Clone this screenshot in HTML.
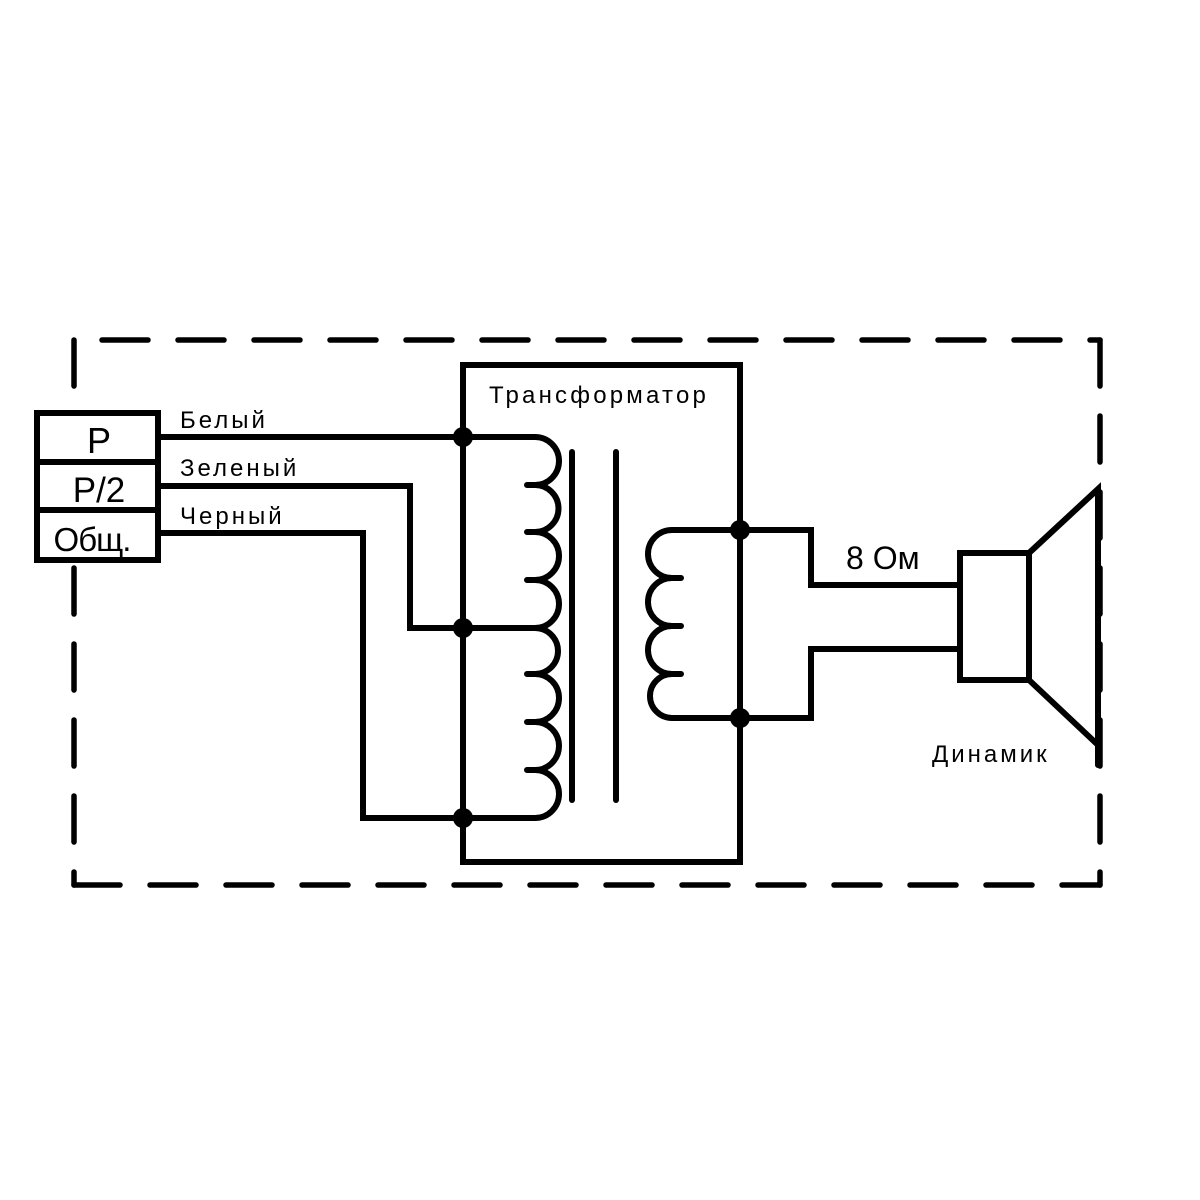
<!DOCTYPE html>
<html><head><meta charset="utf-8"><style>html,body{margin:0;padding:0;background:#fff}svg{display:block}</style></head>
<body>
<svg width="1200" height="1200" viewBox="0 0 1200 1200" xmlns="http://www.w3.org/2000/svg">
<rect width="1200" height="1200" fill="#fff"/>
<g stroke="#000" stroke-width="5.5" stroke-linecap="round" fill="none" stroke-dasharray="46 30">
<line x1="102" y1="340" x2="1100" y2="340"/>
<line x1="74" y1="340" x2="74" y2="885"/>
<line x1="1100" y1="340" x2="1100" y2="885"/>
<line x1="74" y1="885" x2="1100" y2="885"/>
</g>
<g stroke="#000" stroke-width="6" fill="none" stroke-linecap="round" stroke-linejoin="miter">
<rect x="37" y="413" width="121" height="147" stroke-linecap="butt" fill="#fff"/>
<line x1="37" y1="462" x2="158" y2="462"/>
<line x1="37" y1="510" x2="158" y2="510"/>
<polyline points="158,437 463,437"/>
<polyline points="158,486 410,486 410,628 463,628"/>
<polyline points="158,533 363,533 363,818 463,818"/>
<rect x="463" y="365" width="277" height="497"/>
<path d="M463 437 H535 A24 24 0 0 1 535 485 H527 M535 485 A23.5 23.5 0 0 1 535 532 H527 M535 532 A24 24 0 0 1 535 580 H527 M535 580 A24 24 0 0 1 535 628 H463 M535 628 A23 23 0 0 1 535 674 H527 M535 674 A24 24 0 0 1 535 722 H527 M535 722 A24 24 0 0 1 535 770 H527 M535 770 A24 24 0 0 1 535 818 H463"/>
<line x1="572" y1="452" x2="572" y2="800"/>
<line x1="616" y1="452" x2="616" y2="800"/>
<path d="M740 530 H672 A24 24 0 0 0 672 578 H681 M672 578 A24 24 0 0 0 672 626 H681 M672 626 A24 24 0 0 0 672 674 H681 M672 674 A22 22 0 0 0 672 718 H740"/>
<polyline points="740,530 811,530 811,585 960,585"/>
<polyline points="740,718 811,718 811,649 960,649"/>
<rect x="960" y="553" width="69" height="127" fill="#fff"/>
<polyline points="1029,553 1098,489 1098,765"/>
<line x1="1029" y1="680" x2="1098" y2="745"/>
</g>
<g fill="#000">
<circle cx="463" cy="437" r="10"/><circle cx="463" cy="628" r="10"/><circle cx="463" cy="818" r="10"/>
<circle cx="740" cy="530" r="10"/><circle cx="740" cy="718" r="10"/>
</g>
<g font-family="Liberation Sans, DejaVu Sans, sans-serif" fill="#000">
<text x="99" y="453" font-size="36" text-anchor="middle">P</text>
<text x="99" y="502" font-size="35" text-anchor="middle">P/2</text>
<text x="92" y="551" font-size="33" text-anchor="middle" letter-spacing="-1">Общ.</text>
<text x="180" y="428" font-size="24" letter-spacing="3">Белый</text>
<text x="180" y="476" font-size="24" letter-spacing="3">Зеленый</text>
<text x="180" y="524" font-size="24" letter-spacing="3">Черный</text>
<text x="489" y="403" font-size="24" letter-spacing="3.2">Трансформатор</text>
<text x="846" y="569" font-size="32">8 Ом</text>
<text x="932" y="762" font-size="24" letter-spacing="3">Динамик</text>
</g>
</svg>
</body></html>
